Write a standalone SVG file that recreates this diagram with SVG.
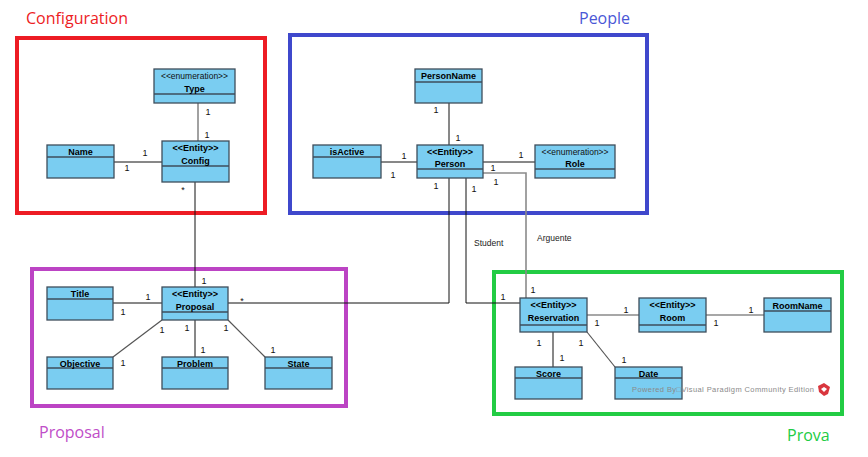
<svg xmlns="http://www.w3.org/2000/svg" width="868" height="457" viewBox="0 0 868 457">
<style>
.bx{fill:#7acdf1;stroke:#3e4d5b;stroke-width:1.3}
.dv{stroke:#3e4d5b;stroke-width:1.3}
.nm{font-family:"Liberation Sans",Arial,sans-serif;font-size:9px;font-weight:bold;fill:#000;text-anchor:middle}
.st{font-family:"Liberation Sans",Arial,sans-serif;font-size:8.5px;fill:#111;text-anchor:middle}
.m{font-family:"Liberation Sans",Arial,sans-serif;font-size:9px;fill:#111;text-anchor:middle}
.ln{stroke:#111;stroke-width:1;fill:none}
.lg{stroke:#8a8a8a;stroke-width:1.6;fill:none}
.ld{stroke:#555;stroke-width:1.2;fill:none}
.rg{font-family:"Open Sans","Noto Sans",sans-serif;font-size:16px}
.lb{font-family:"Liberation Sans",Arial,sans-serif;font-size:8.5px;fill:#222}
</style>
<rect width="868" height="457" fill="#fff"/>
<!-- region frames -->
<g id="regions">
<rect x="17" y="38" width="248" height="175" fill="none" stroke="#ed1c24" stroke-width="4"/>
<text class="rg" x="26" y="24" fill="#ed1c24">Configuration</text>
<rect x="290" y="35" width="357" height="178" fill="none" stroke="#3f48cc" stroke-width="4"/>
<text class="rg" x="579" y="24" fill="#4a57d6">People</text>
<rect x="32" y="269" width="314" height="137" fill="none" stroke="#bc44c4" stroke-width="4"/>
<text class="rg" x="39" y="438" fill="#c04dc8">Proposal</text>
<rect x="494" y="272" width="348" height="142" fill="none" stroke="#22cc44" stroke-width="4"/>
<text class="rg" x="787" y="441" fill="#22cc44">Prova</text>
</g>
<!-- connectors -->
<g id="connectors">
<line class="lg" x1="198" y1="103" x2="198" y2="141"/>
<text class="m" x="208" y="115">1</text><text class="m" x="207" y="138">1</text>
<line class="ln" x1="114" y1="162" x2="162" y2="162"/>
<text class="m" x="145" y="156">1</text><text class="m" x="127" y="171">1</text>
<line class="ln" x1="195" y1="182" x2="195" y2="287"/>
<text class="m" x="183" y="193">*</text><text class="m" x="204" y="284">1</text>
<line class="ln" x1="449" y1="103" x2="449" y2="145"/>
<text class="m" x="436" y="113">1</text><text class="m" x="458" y="141">1</text>
<line class="ln" x1="381" y1="162" x2="417" y2="162"/>
<text class="m" x="404" y="159">1</text><text class="m" x="393" y="178">1</text>
<line class="ln" x1="483" y1="162" x2="535" y2="162"/>
<text class="m" x="521" y="158">1</text>
<polyline class="lg" points="483,173 526,173 526,298"/>
<text class="m" x="493" y="171">1</text><text class="m" x="496" y="185">1</text>
<text class="m" x="533" y="293">1</text>
<text class="lb" x="537" y="241">Arguente</text>
<polyline class="ln" points="466,178 466,303 520,303"/>
<text class="m" x="474" y="192">1</text><text class="m" x="503" y="300">1</text>
<text class="lb" x="474" y="246">Student</text>
<polyline class="ln" points="449,178 449,303 228,303"/>
<text class="m" x="436" y="189">1</text><text class="m" x="242" y="304">*</text>
<line class="ln" x1="113" y1="303" x2="162" y2="303"/>
<text class="m" x="148" y="300">1</text><text class="m" x="123" y="315">1</text>
<line class="ld" x1="162" y1="320" x2="113" y2="357"/>
<text class="m" x="162" y="333">1</text><text class="m" x="123" y="366">1</text>
<line class="ln" x1="195" y1="320" x2="195" y2="357"/>
<text class="m" x="187" y="331">1</text><text class="m" x="203" y="353">1</text>
<line class="ld" x1="228" y1="320" x2="265" y2="357"/>
<text class="m" x="226" y="331">1</text><text class="m" x="273" y="353">1</text>
<line class="lg" x1="587" y1="315" x2="639" y2="315"/>
<text class="m" x="626" y="313">1</text><text class="m" x="597" y="326">1</text>
<line class="lg" x1="706" y1="315" x2="764" y2="315"/>
<text class="m" x="751" y="313">1</text><text class="m" x="716" y="326">1</text>
<line class="ln" x1="553" y1="332" x2="553" y2="367"/>
<text class="m" x="539" y="346">1</text><text class="m" x="562" y="361">1</text>
<line class="ld" x1="587" y1="332" x2="615" y2="367"/>
<text class="m" x="581" y="346">1</text><text class="m" x="624" y="363">1</text>
</g>
<!-- nodes -->
<g id="Type"><rect class="bx" x="154" y="69" width="81" height="34"/><line class="dv" x1="154" y1="94" x2="235" y2="94"/>
<text class="st" x="194.5" y="79">&lt;&lt;enumeration&gt;&gt;</text><text class="nm" x="194.5" y="92">Type</text></g>
<g id="Name"><rect class="bx" x="47" y="145" width="67" height="33"/><line class="dv" x1="47" y1="157" x2="114" y2="157"/>
<text class="nm" x="80.5" y="155">Name</text></g>
<g id="Config"><rect class="bx" x="162" y="141" width="67" height="41"/><line class="dv" x1="162" y1="166" x2="229" y2="166"/>
<text class="nm" x="195.5" y="151">&lt;&lt;Entity&gt;&gt;</text><text class="nm" x="195.5" y="164">Config</text></g>
<g id="PersonName"><rect class="bx" x="415" y="69" width="67" height="34"/><line class="dv" x1="415" y1="82" x2="482" y2="82"/>
<text class="nm" x="448.5" y="79">PersonName</text></g>
<g id="isActive"><rect class="bx" x="313" y="145" width="68" height="33"/><line class="dv" x1="313" y1="157" x2="381" y2="157"/>
<text class="nm" x="347" y="155">isActive</text></g>
<g id="Person"><rect class="bx" x="417" y="145" width="66" height="33"/><line class="dv" x1="417" y1="169" x2="483" y2="169"/>
<text class="nm" x="450" y="155">&lt;&lt;Entity&gt;&gt;</text><text class="nm" x="450" y="167">Person</text></g>
<g id="Role"><rect class="bx" x="535" y="145" width="80" height="33"/><line class="dv" x1="535" y1="169" x2="615" y2="169"/>
<text class="st" x="575" y="155">&lt;&lt;enumeration&gt;&gt;</text><text class="nm" x="575" y="167">Role</text></g>
<g id="Title"><rect class="bx" x="47" y="287" width="66" height="33"/><line class="dv" x1="47" y1="299" x2="113" y2="299"/>
<text class="nm" x="80" y="296.5">Title</text></g>
<g id="Proposal"><rect class="bx" x="162" y="287" width="66" height="33"/><line class="dv" x1="162" y1="312" x2="228" y2="312"/>
<text class="nm" x="195" y="296.5">&lt;&lt;Entity&gt;&gt;</text><text class="nm" x="195" y="309.5">Proposal</text></g>
<g id="Objective"><rect class="bx" x="47" y="357" width="66" height="32"/><line class="dv" x1="47" y1="368" x2="113" y2="368"/>
<text class="nm" x="80" y="366.5">Objective</text></g>
<g id="Problem"><rect class="bx" x="162" y="357" width="66" height="32"/><line class="dv" x1="162" y1="368" x2="228" y2="368"/>
<text class="nm" x="195" y="366.5">Problem</text></g>
<g id="State"><rect class="bx" x="265" y="357" width="67" height="32"/><line class="dv" x1="265" y1="368" x2="332" y2="368"/>
<text class="nm" x="298.5" y="366.5">State</text></g>
<g id="Reservation"><rect class="bx" x="520" y="298" width="67" height="34"/><line class="dv" x1="520" y1="325" x2="587" y2="325"/>
<text class="nm" x="553.5" y="307.5">&lt;&lt;Entity&gt;&gt;</text><text class="nm" x="553.5" y="320.5">Reservation</text></g>
<g id="Room"><rect class="bx" x="639" y="298" width="67" height="34"/><line class="dv" x1="639" y1="325" x2="706" y2="325"/>
<text class="nm" x="672.5" y="307.5">&lt;&lt;Entity&gt;&gt;</text><text class="nm" x="672.5" y="320.5">Room</text></g>
<g id="RoomName"><rect class="bx" x="764" y="298" width="67" height="34"/><line class="dv" x1="764" y1="311" x2="831" y2="311"/>
<text class="nm" x="797.5" y="308.5">RoomName</text></g>
<g id="Score"><rect class="bx" x="515" y="367" width="67" height="32"/><line class="dv" x1="515" y1="378" x2="582" y2="378"/>
<text class="nm" x="548.5" y="376.5">Score</text></g>
<g id="Date"><rect class="bx" x="615" y="367" width="67" height="32"/><line class="dv" x1="615" y1="378" x2="682" y2="378"/>
<text class="nm" x="648.5" y="376.5">Date</text></g>
<g id="watermark">
<text x="632" y="392" font-family="Liberation Sans,Arial,sans-serif" font-size="7.5px" fill="#8a8a8a" textLength="182">Powered By□Visual Paradigm Community Edition</text>
<polygon points="824,383 830,387 828,394 824,396 819,392 818,386" fill="#d9363e"/>
<polygon points="824,387 827,389 824,392 821,389" fill="#fff"/>
</g>
</svg>
